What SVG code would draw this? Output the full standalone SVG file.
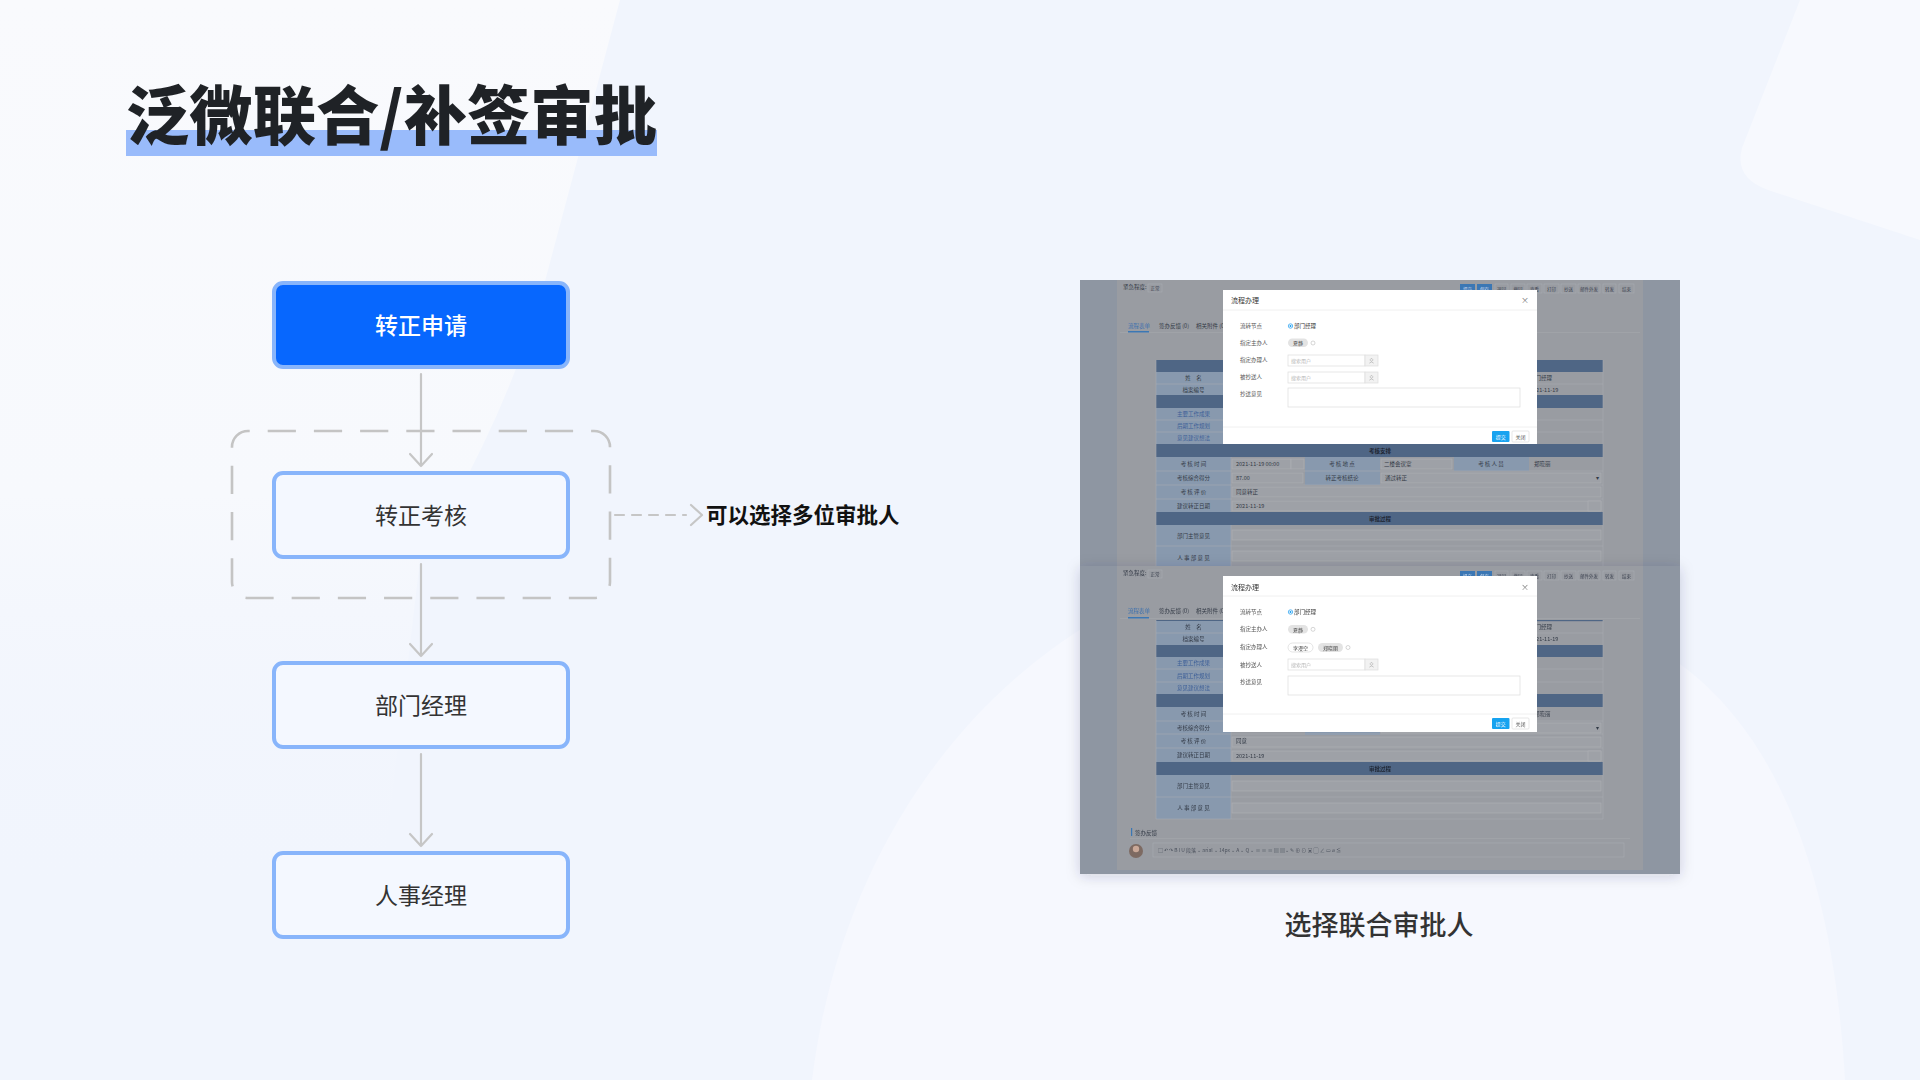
<svg xmlns="http://www.w3.org/2000/svg" width="1920" height="1080" viewBox="0 0 1920 1080">
<defs>
<style>
.cj{font-family:"Noto Sans CJK SC","Noto Sans",sans-serif}
.node-txt{font-family:"Noto Sans CJK SC",sans-serif;font-size:23px;fill:#333;text-anchor:middle}
.nbox{fill:#f4f8ff;stroke:#88b5fb;stroke-width:4}
.conn{fill:none;stroke:#c6c6c6;stroke-width:2.2;stroke-linecap:round;stroke-linejoin:round}
.t5{font-family:"Noto Sans CJK SC",sans-serif;font-size:5.5px;fill:#333a46}
.tc{text-anchor:middle}
.lk{fill:#3d5f98}
.hd{fill:#4f6685}
.lc{fill:#8899ae}
.rl{stroke:#a7abb2;stroke-width:0.6;fill:none}
.ib{fill:#9ea1a7;stroke:#aeb1b6;stroke-width:0.6}
.dl{font-family:"Noto Sans CJK SC",sans-serif;font-size:5.5px;fill:#555}
.in{fill:#fff;stroke:#dcdcdc;stroke-width:0.7}
.ph{font-family:"Noto Sans CJK SC",sans-serif;font-size:5px;fill:#b5b5b5}
.tb{fill:none;stroke:#a9acb2;stroke-width:0.6}
.tbt{font-family:"Noto Sans CJK SC",sans-serif;font-size:4.5px;fill:#3c4250;text-anchor:middle}
</style>
<filter id="sh" x="-10%" y="-10%" width="120%" height="120%">
<feDropShadow dx="0" dy="2" stdDeviation="7" flood-color="#1a2a4a" flood-opacity="0.18"/>
</filter>
<linearGradient id="tl" x1="0" y1="0" x2="0" y2="1">
<stop offset="0" stop-color="#f9fafd"/>
<stop offset="0.55" stop-color="#f7f9fd"/>
<stop offset="1" stop-color="#f1f5fd" stop-opacity="0"/>
</linearGradient>
</defs>

<!-- background -->
<rect x="0" y="0" width="1920" height="1080" fill="#f1f5fd"/>
<path d="M0 0 L620 0 L540 300 Q500 430 420 560 L380 900 L0 900 Z" fill="url(#tl)"/>
<path d="M1800 0 L1742 148 Q1734 178 1768 190 L1920 240 L1920 0 Z" fill="#f7f9fe"/>
<path d="M812 1080 C838 870 950 700 1110 612 C1300 520 1560 560 1700 680 C1790 760 1835 900 1845 1080 Z" fill="#f6f8fe"/>

<!-- title -->
<g id="title">
<rect x="126" y="130" width="531" height="26" fill="#99bbfb"/>
<text x="126" y="139" class="cj" font-size="64" font-weight="900" fill="#1f2226" textLength="531" lengthAdjust="spacingAndGlyphs">泛微联合/补签审批</text>
</g>

<!-- connectors -->
<g id="connectors">
<rect x="232" y="431" width="378" height="167" rx="16" fill="none" stroke="#c4c4c4" stroke-width="2.6" stroke-dasharray="28.2 18" stroke-dashoffset="26.5"/>
<path class="conn" d="M421 374 V466 M410 454 L421 466 L432 454"/>
<path class="conn" d="M421 564 V656 M410 644 L421 656 L432 644"/>
<path class="conn" d="M421 754 V846 M410 834 L421 846 L432 834"/>
<path class="conn" d="M615 515 H686" stroke-dasharray="9 8"/>
<path class="conn" d="M691 505 L702 515 L691 525"/>
</g>

<!-- nodes -->
<g id="node-apply">
<rect x="274" y="283" width="294" height="84" rx="9" fill="#0767fe" stroke="#88b5fb" stroke-width="4"/>
<text x="421" y="334" class="node-txt" font-weight="500" style="fill:#fff">转正申请</text>
</g>
<g id="node-review">
<rect x="274" y="473" width="294" height="84" rx="9" class="nbox"/>
<text x="421" y="524" class="node-txt">转正考核</text>
</g>
<g id="node-dept">
<rect x="274" y="663" width="294" height="84" rx="9" class="nbox"/>
<text x="421" y="714" class="node-txt">部门经理</text>
</g>
<g id="node-hr">
<rect x="274" y="853" width="294" height="84" rx="9" class="nbox"/>
<text x="421" y="904" class="node-txt">人事经理</text>
</g>
<g id="note">
<text x="706" y="523" class="cj" font-size="21.5" font-weight="700" fill="#111">可以选择多位审批人</text>
</g>

<!-- screenshot top -->
<g id="shot-top">
<rect x="1080" y="280" width="600" height="290" fill="#8e96a2"/>
<rect x="1117" y="280" width="526" height="290" fill="#999ca2"/>
<text x="1123" y="289" class="t5">紧急程度:</text>
<rect x="1148" y="284" width="14" height="8" class="tb"/>
<text x="1155" y="290" class="tbt">正常</text>
<g>
<rect x="1460" y="284" width="15" height="9" fill="#3b77b4"/>
<rect x="1477" y="284" width="15" height="9" fill="#3b77b4"/>
<rect x="1495" y="284" width="13" height="9" class="tb"/>
<rect x="1511" y="284" width="14" height="9" class="tb"/>
<rect x="1527" y="284" width="15" height="9" class="tb"/>
<rect x="1544" y="284" width="15" height="9" class="tb"/>
<rect x="1561" y="284" width="15" height="9" class="tb"/>
<rect x="1578" y="284" width="22" height="9" class="tb"/>
<rect x="1603" y="284" width="13" height="9" class="tb"/>
<rect x="1619" y="284" width="15" height="9" class="tb"/>
<text x="1467.5" y="290.5" class="tbt" style="fill:#cfdced">提交</text>
<text x="1484.5" y="290.5" class="tbt" style="fill:#cfdced">保存</text>
<text x="1501.5" y="290.5" class="tbt">退回</text>
<text x="1518" y="290.5" class="tbt">撤回</text>
<text x="1534.5" y="290.5" class="tbt">查看</text>
<text x="1551.5" y="290.5" class="tbt">打印</text>
<text x="1568.5" y="290.5" class="tbt">抄送</text>
<text x="1589" y="290.5" class="tbt">邮件外发</text>
<text x="1609.5" y="290.5" class="tbt">转发</text>
<text x="1626.5" y="290.5" class="tbt">结束</text>
</g>
<text x="1128" y="327.5" class="t5" style="fill:#3b6fae">流程表单</text>
<text x="1159" y="327.5" class="t5">签办反馈 (0)</text>
<text x="1196" y="327.5" class="t5">相关附件 (0)</text>
<line x1="1120" y1="332.5" x2="1640" y2="332.5" stroke="#a4a7ad" stroke-width="0.6"/>
<rect x="1128" y="331" width="21" height="1.5" fill="#3b77b4"/>
<!-- table -->
<rect x="1156" y="360" width="447" height="206" fill="#999ca2"/>
<rect class="hd" x="1156" y="360" width="447" height="12"/>
<rect class="hd" x="1156" y="395" width="447" height="13"/>
<rect class="hd" x="1156" y="444" width="447" height="13"/>
<rect class="hd" x="1156" y="512" width="447" height="13"/>
<rect class="lc" x="1156" y="372" width="75" height="23"/>
<rect class="lc" x="1156" y="408" width="75" height="36"/>
<rect class="lc" x="1156" y="457" width="75" height="55"/>
<rect class="lc" x="1156" y="525" width="75" height="41"/>
<rect class="lc" x="1305" y="457" width="75" height="28"/>
<rect class="lc" x="1454" y="457" width="75" height="14"/>
<path class="rl" d="M1156 384H1603M1156 420H1603M1156 432H1603M1156 471H1603M1156 485H1603M1156 499H1603M1156 546H1603M1603 360V566M1156 360V566M1231 372V395M1231 408V444M1231 457V512M1231 525V566"/>
<text x="1193.5" y="380" class="t5 tc">姓　名</text>
<text x="1193.5" y="391.5" class="t5 tc">档案编号</text>
<text x="1193.5" y="416" class="t5 tc lk">主要工作成果</text>
<text x="1193.5" y="428" class="t5 tc lk">后期工作规划</text>
<text x="1193.5" y="440" class="t5 tc lk">意见建议想法</text>
<text x="1380" y="452.5" class="t5 tc" font-weight="700" style="fill:#1e2532">考核安排</text>
<text x="1193.5" y="466" class="t5 tc">考 核 时 间</text>
<text x="1193.5" y="480" class="t5 tc">考核综合得分</text>
<text x="1193.5" y="494" class="t5 tc">考 核 评 价</text>
<text x="1193.5" y="507.5" class="t5 tc">建议转正日期</text>
<text x="1380" y="520.5" class="t5 tc" font-weight="700" style="fill:#1e2532">审批过程</text>
<text x="1193.5" y="537.5" class="t5 tc">部门主管意见</text>
<text x="1193.5" y="560" class="t5 tc">人 事 部 意 见</text>
<rect class="ib" x="1232" y="459" width="59" height="10"/>
<rect class="ib" x="1291" y="459" width="13" height="10"/>
<rect class="ib" x="1381" y="459" width="71" height="10"/>
<rect class="ib" x="1232" y="473" width="71" height="10"/>
<rect class="ib" x="1381" y="473" width="220" height="10"/>
<rect class="ib" x="1232" y="487" width="369" height="10"/>
<rect class="ib" x="1232" y="501" width="369" height="10"/>
<rect class="ib" x="1588" y="501" width="13" height="10"/>
<rect class="ib" x="1232" y="530" width="369" height="10"/>
<rect class="ib" x="1232" y="551" width="369" height="10"/>
<text x="1236" y="466" class="t5">2021-11-19 00:00</text>
<text x="1342" y="466" class="t5 tc">考 核 地 点</text>
<text x="1384" y="466" class="t5">二楼会议室</text>
<text x="1491" y="466" class="t5 tc">考 核 人 员</text>
<text x="1534" y="466" class="t5">郑晓丽</text>
<text x="1236" y="480" class="t5">87.00</text>
<text x="1342" y="480" class="t5 tc">转正考核结论</text>
<text x="1385" y="480" class="t5">通过转正</text>
<text x="1596" y="480" class="t5">▾</text>
<text x="1236" y="494" class="t5">同意转正</text>
<text x="1236" y="508" class="t5">2021-11-19</text>
<text x="1530" y="380" class="t5">部门经理</text>
<text x="1530" y="391.5" class="t5">2021-11-19</text>
<!-- dialog -->
<g>
<rect x="1223" y="290" width="314" height="154" fill="#fff"/>
<text x="1231" y="302.5" class="cj" font-size="7" fill="#333">流程办理</text>
<text x="1525" y="303" class="cj" font-size="8" fill="#777" text-anchor="middle">×</text>
<line x1="1223" y1="310" x2="1537" y2="310" stroke="#f0f0f0" stroke-width="1"/>
<text x="1240" y="328" class="dl">流转节点</text>
<text x="1240" y="345" class="dl">指定主办人</text>
<text x="1240" y="362" class="dl">指定办理人</text>
<text x="1240" y="379" class="dl">被抄送人</text>
<text x="1240" y="396" class="dl">抄送意见</text>
<circle cx="1290.5" cy="326" r="2.2" fill="#fff" stroke="#1a9cf0" stroke-width="0.7"/>
<circle cx="1290.5" cy="326" r="1" fill="#1a9cf0"/>
<text x="1294" y="328" class="dl" style="fill:#333">部门经理</text>
<rect x="1288" y="338.5" width="20" height="8.5" rx="4.25" fill="#e3e3e3"/>
<text x="1298" y="345" class="dl tc" style="fill:#444;font-size:5px">夏静</text>
<circle cx="1313" cy="343" r="2" fill="none" stroke="#bbb" stroke-width="0.6"/>
<rect class="in" x="1288" y="355" width="77" height="11"/>
<rect x="1365" y="355" width="13" height="11" fill="#f2f2f2" stroke="#dcdcdc" stroke-width="0.7"/>
<text x="1291" y="362.5" class="ph">搜索用户</text>
<rect class="in" x="1288" y="372" width="77" height="11"/>
<rect x="1365" y="372" width="13" height="11" fill="#f2f2f2" stroke="#dcdcdc" stroke-width="0.7"/>
<text x="1291" y="379.5" class="ph">搜索用户</text>
<path d="M1371.5 358.6a1.3 1.3 0 1 0 0.01 0M1369.3 363.2q2.2 -2.6 4.4 0M1371.5 375.6a1.3 1.3 0 1 0 0.01 0M1369.3 380.2q2.2 -2.6 4.4 0" fill="none" stroke="#999" stroke-width="0.5"/>
<rect class="in" x="1288" y="388" width="232" height="19"/>
<line x1="1223" y1="427" x2="1537" y2="427" stroke="#f0f0f0" stroke-width="1"/>
<rect x="1492" y="431" width="17.5" height="11" rx="1" fill="#19a3f0"/>
<text x="1500.75" y="438.5" class="dl tc" style="fill:#fff;font-size:5px">提交</text>
<rect x="1512" y="431" width="17" height="11" rx="1" fill="#fff" stroke="#ddd" stroke-width="0.7"/>
<text x="1520.5" y="438.5" class="dl tc" style="font-size:5px">关闭</text>
</g>
</g>

<!-- screenshot bottom -->
<g id="shot-bottom" filter="url(#sh)">
<rect x="1080" y="566" width="600" height="308" fill="#8e96a2"/>
<rect x="1117" y="566" width="526" height="304" fill="#999ca2"/>
<text x="1123" y="575" class="t5">紧急程度:</text>
<rect x="1148" y="570" width="14" height="8" class="tb"/>
<text x="1155" y="576" class="tbt">正常</text>
<g transform="translate(0,287)">
<rect x="1460" y="284" width="15" height="9" fill="#3b77b4"/>
<rect x="1477" y="284" width="15" height="9" fill="#3b77b4"/>
<rect x="1495" y="284" width="13" height="9" class="tb"/>
<rect x="1511" y="284" width="14" height="9" class="tb"/>
<rect x="1527" y="284" width="15" height="9" class="tb"/>
<rect x="1544" y="284" width="15" height="9" class="tb"/>
<rect x="1561" y="284" width="15" height="9" class="tb"/>
<rect x="1578" y="284" width="22" height="9" class="tb"/>
<rect x="1603" y="284" width="13" height="9" class="tb"/>
<rect x="1619" y="284" width="15" height="9" class="tb"/>
<text x="1467.5" y="290.5" class="tbt" style="fill:#cfdced">提交</text>
<text x="1484.5" y="290.5" class="tbt" style="fill:#cfdced">保存</text>
<text x="1501.5" y="290.5" class="tbt">退回</text>
<text x="1518" y="290.5" class="tbt">撤回</text>
<text x="1534.5" y="290.5" class="tbt">查看</text>
<text x="1551.5" y="290.5" class="tbt">打印</text>
<text x="1568.5" y="290.5" class="tbt">抄送</text>
<text x="1589" y="290.5" class="tbt">邮件外发</text>
<text x="1609.5" y="290.5" class="tbt">转发</text>
<text x="1626.5" y="290.5" class="tbt">结束</text>
</g>
<text x="1128" y="613" class="t5" style="fill:#3b6fae">流程表单</text>
<text x="1159" y="613" class="t5">签办反馈 (0)</text>
<text x="1196" y="613" class="t5">相关附件 (0)</text>
<line x1="1120" y1="618.5" x2="1640" y2="618.5" stroke="#a4a7ad" stroke-width="0.6"/>
<rect x="1128" y="617" width="21" height="1.5" fill="#3b77b4"/>
<!-- table -->
<rect class="hd" x="1156" y="620" width="447" height="1.2"/>
<rect class="hd" x="1156" y="645" width="447" height="12"/>
<rect class="hd" x="1156" y="694" width="447" height="13"/>
<rect class="hd" x="1156" y="762" width="447" height="13"/>
<rect class="lc" x="1156" y="621" width="75" height="24"/>
<rect class="lc" x="1156" y="657" width="75" height="37"/>
<rect class="lc" x="1156" y="707" width="75" height="55"/>
<rect class="lc" x="1156" y="775" width="75" height="44"/>
<rect class="lc" x="1305" y="707" width="75" height="28"/>
<rect class="lc" x="1454" y="707" width="75" height="14"/>
<path class="rl" d="M1156 633H1603M1156 669H1603M1156 682H1603M1156 721H1603M1156 734H1603M1156 748H1603M1156 797H1603M1156 819H1603M1603 620V819M1156 620V819M1231 621V645M1231 657V694M1231 707V762M1231 775V819"/>
<text x="1193.5" y="629" class="t5 tc">姓　名</text>
<text x="1193.5" y="641" class="t5 tc">档案编号</text>
<text x="1193.5" y="665" class="t5 tc lk">主要工作成果</text>
<text x="1193.5" y="677.5" class="t5 tc lk">后期工作规划</text>
<text x="1193.5" y="690" class="t5 tc lk">意见建议想法</text>
<text x="1380" y="702.5" class="t5 tc" font-weight="700" style="fill:#1e2532">考核安排</text>
<text x="1193.5" y="716" class="t5 tc">考 核 时 间</text>
<text x="1193.5" y="729.5" class="t5 tc">考核综合得分</text>
<text x="1193.5" y="743" class="t5 tc">考 核 评 价</text>
<text x="1193.5" y="757" class="t5 tc">建议转正日期</text>
<text x="1380" y="770.5" class="t5 tc" font-weight="700" style="fill:#1e2532">审批过程</text>
<text x="1193.5" y="788" class="t5 tc">部门主管意见</text>
<text x="1193.5" y="810" class="t5 tc">人 事 部 意 见</text>
<rect class="ib" x="1381" y="723" width="220" height="10"/>
<rect class="ib" x="1232" y="737" width="369" height="10"/>
<rect class="ib" x="1232" y="751" width="369" height="10"/>
<rect class="ib" x="1588" y="751" width="13" height="10"/>
<rect class="ib" x="1232" y="781" width="369" height="10"/>
<rect class="ib" x="1232" y="803" width="369" height="10"/>
<text x="1534" y="716" class="t5">郑晓丽</text>
<text x="1596" y="730" class="t5">▾</text>
<text x="1236" y="743" class="t5">同意</text>
<text x="1236" y="758" class="t5">2021-11-19</text>
<text x="1530" y="629" class="t5">部门经理</text>
<text x="1530" y="641" class="t5">2021-11-19</text>
<rect x="1131" y="828" width="1.2" height="8" fill="#3b77b4"/>
<text x="1135" y="834.5" class="t5">签办反馈</text>
<line x1="1130" y1="838.5" x2="1630" y2="838.5" stroke="#a4a7ad" stroke-width="0.6"/>
<circle cx="1136" cy="851" r="7" fill="#7d6a62"/>
<circle cx="1136" cy="849" r="3.2" fill="#c9a898"/>
<rect x="1153" y="843" width="471" height="14" class="tb"/>
<text x="1158" y="852" class="t5" style="font-size:5px;fill:#4a505c">□  ↶  ↷    B   I   U   段落 ⌄  arial ⌄  14px ⌄  A ⌄  Q ⌄  ≡  ≡  ≡  ▤  ▤⌄  ✎  ⊕  ⊙  ▣  ▢  ∠  ▭  ⌀  ≦</text>
<!-- dialog -->
<g>
<rect x="1223" y="576" width="314" height="156" fill="#fff"/>
<text x="1231" y="589.5" class="cj" font-size="7" fill="#333">流程办理</text>
<text x="1525" y="590" class="cj" font-size="8" fill="#777" text-anchor="middle">×</text>
<line x1="1223" y1="596" x2="1537" y2="596" stroke="#f0f0f0" stroke-width="1"/>
<text x="1240" y="614" class="dl">流转节点</text>
<text x="1240" y="631" class="dl">指定主办人</text>
<text x="1240" y="649" class="dl">指定办理人</text>
<text x="1240" y="667" class="dl">被抄送人</text>
<text x="1240" y="684" class="dl">抄送意见</text>
<circle cx="1290.5" cy="612" r="2.2" fill="#fff" stroke="#1a9cf0" stroke-width="0.7"/>
<circle cx="1290.5" cy="612" r="1" fill="#1a9cf0"/>
<text x="1294" y="614" class="dl" style="fill:#333">部门经理</text>
<rect x="1288" y="625" width="20" height="8.5" rx="4.25" fill="#e3e3e3"/>
<text x="1298" y="631.5" class="dl tc" style="fill:#444;font-size:5px">夏静</text>
<circle cx="1313" cy="629.3" r="2" fill="none" stroke="#bbb" stroke-width="0.6"/>
<rect x="1288" y="643" width="25" height="9" rx="4.5" fill="#fff" stroke="#d8d8d8" stroke-width="0.7"/>
<text x="1300.5" y="649.5" class="dl tc" style="fill:#444;font-size:5px">李漫空</text>
<rect x="1318" y="643" width="25" height="9" rx="4.5" fill="#e3e3e3"/>
<text x="1330.5" y="649.5" class="dl tc" style="fill:#444;font-size:5px">郑晓丽</text>
<circle cx="1348" cy="647.5" r="2" fill="none" stroke="#bbb" stroke-width="0.6"/>
<rect class="in" x="1288" y="659" width="77" height="11"/>
<rect x="1365" y="659" width="13" height="11" fill="#f2f2f2" stroke="#dcdcdc" stroke-width="0.7"/>
<text x="1291" y="666.5" class="ph">搜索用户</text>
<path d="M1371.5 662.6a1.3 1.3 0 1 0 0.01 0M1369.3 667.2q2.2 -2.6 4.4 0" fill="none" stroke="#999" stroke-width="0.5"/>
<rect class="in" x="1288" y="676" width="232" height="19"/>
<line x1="1223" y1="714" x2="1537" y2="714" stroke="#f0f0f0" stroke-width="1"/>
<rect x="1492" y="718" width="17.5" height="11" rx="1" fill="#19a3f0"/>
<text x="1500.75" y="725.5" class="dl tc" style="fill:#fff;font-size:5px">提交</text>
<rect x="1512" y="718" width="17" height="11" rx="1" fill="#fff" stroke="#ddd" stroke-width="0.7"/>
<text x="1520.5" y="725.5" class="dl tc" style="font-size:5px">关闭</text>
</g>
</g>

<g id="caption">
<text x="1379" y="935" class="cj" font-size="27" font-weight="500" fill="#333" text-anchor="middle">选择联合审批人</text>
</g>
</svg>
